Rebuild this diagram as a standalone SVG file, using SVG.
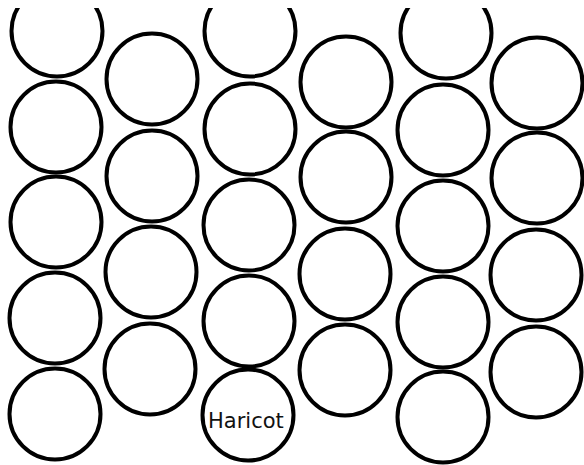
<svg xmlns="http://www.w3.org/2000/svg" width="584" height="465" viewBox="0 0 584 465">
<style>
.c{fill:#fff;stroke:#000;stroke-width:4}
.t{font-family:"DejaVu Sans",sans-serif;font-size:21px;fill:#111}
</style>
<rect width="584" height="465" fill="#fff"/>
<g id="col1">
<circle class="c" cx="57" cy="31" r="45.5"/>
<circle class="c" cx="56" cy="127" r="45.5"/>
<circle class="c" cx="56" cy="222" r="45.5"/>
<circle class="c" cx="55" cy="318" r="45.5"/>
<circle class="c" cx="55" cy="414" r="45.5"/>
</g>
<g id="col2">
<circle class="c" cx="152" cy="79" r="45.5"/>
<circle class="c" cx="152" cy="176" r="45.5"/>
<circle class="c" cx="151" cy="272" r="45.5"/>
<circle class="c" cx="150" cy="369" r="45.5"/>
</g>
<g id="col3">
<circle class="c" cx="250" cy="31" r="45.5"/>
<circle class="c" cx="250" cy="129" r="45.5"/>
<circle class="c" cx="249" cy="225" r="45.5"/>
<circle class="c" cx="249" cy="321" r="45.5"/>
<g id="haricot">
<circle class="c" cx="248" cy="415" r="45.5"/>
<text class="t" x="208" y="428">Haricot</text>
</g>
</g>
<g id="col4">
<circle class="c" cx="346" cy="82" r="45.5"/>
<circle class="c" cx="346" cy="177" r="45.5"/>
<circle class="c" cx="345" cy="274" r="45.5"/>
<circle class="c" cx="345" cy="370" r="45.5"/>
</g>
<g id="col5">
<circle class="c" cx="446" cy="33" r="45.5"/>
<circle class="c" cx="443" cy="130" r="45.5"/>
<circle class="c" cx="443" cy="226" r="45.5"/>
<circle class="c" cx="443" cy="322" r="45.5"/>
<circle class="c" cx="443" cy="417" r="45.5"/>
</g>
<g id="col6">
<circle class="c" cx="537" cy="83" r="45.5"/>
<circle class="c" cx="537" cy="178" r="45.5"/>
<circle class="c" cx="536" cy="275" r="45.5"/>
<circle class="c" cx="536" cy="372" r="45.5"/>
</g>
<rect x="0" y="0" width="584" height="8" fill="#fff"/>
</svg>
